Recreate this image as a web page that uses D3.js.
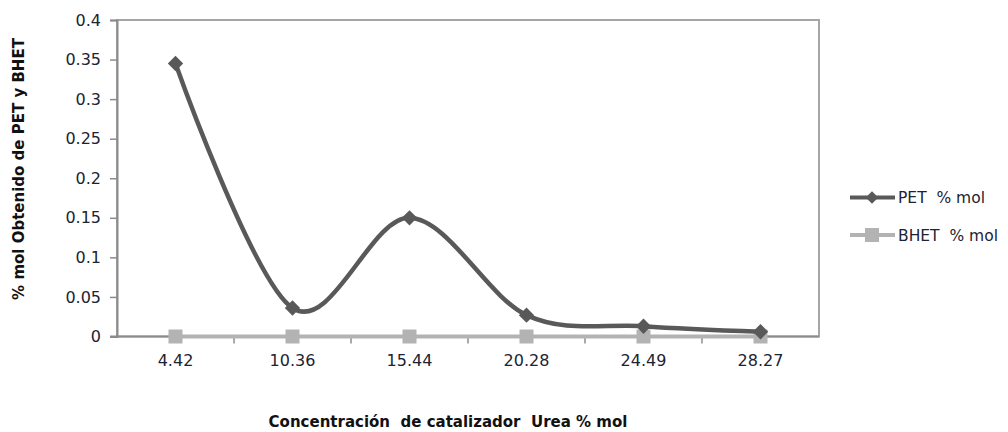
<!DOCTYPE html>
<html>
<head>
<meta charset="utf-8">
<script src="https://cdn.jsdelivr.net/npm/d3@7"></script>
<style>
  body { margin: 0; background: #fff; }
  svg { display: block; }
  text { white-space: pre; }
</style>
</head>
<body>
<svg id="chart" width="1008" height="432"></svg>
<script>
// Catalyst concentration (urea, % mol) and yields
const categories = ["4.42", "10.36", "15.44", "20.28", "24.49", "28.27"];
const petValues  = [0.345, 0.036, 0.150, 0.027, 0.013, 0.006];
const bhetValues = [0, 0, 0, 0, 0, 0];
const yTicks = [0, 0.05, 0.1, 0.15, 0.2, 0.25, 0.3, 0.35, 0.4];
const seriesNames = ["PET  % mol", "BHET  % mol"];

const svg = d3.select("#chart");
const plot = { left: 117, right: 819, top: 20, bottom: 336.5 };
const font = "'DejaVu Sans', 'Open Sans', sans-serif";
const textColor = "#1c2333";

const x = d3.scaleBand().domain(categories).range([plot.left, plot.right]);
const y = d3.scaleLinear().domain([0, 0.4]).range([plot.bottom, plot.top]);

// plot frame
svg.append("rect")
  .attr("x", plot.left).attr("y", plot.top)
  .attr("width", plot.right - plot.left).attr("height", plot.bottom - plot.top)
  .attr("fill", "none").attr("stroke", "#a6a6a6").attr("stroke-width", 2);

// y axis
const yAxis = svg.append("g")
  .attr("transform", `translate(${plot.left},0)`)
  .call(d3.axisLeft(y).tickValues(yTicks).tickSize(7).tickPadding(9)
    .tickFormat(d => d3.format("~g")(d)));
yAxis.select(".domain").attr("stroke", "#8c8c8c").attr("stroke-width", 2);
yAxis.selectAll(".tick line").attr("stroke", "#8c8c8c").attr("stroke-width", 1.5);
yAxis.selectAll(".tick text")
  .attr("font-family", font).attr("font-size", 16).attr("fill", textColor);

// x axis: ticks sit between the categories
const xAxis = svg.append("g")
  .attr("transform", `translate(0,${plot.bottom})`)
  .call(d3.axisBottom(x).tickSize(0).tickPadding(18));
xAxis.select(".domain").remove();
xAxis.selectAll(".tick text")
  .attr("font-family", font).attr("font-size", 16).attr("fill", textColor);
svg.append("line")
  .attr("x1", plot.left - 7).attr("x2", plot.right)
  .attr("y1", plot.bottom).attr("y2", plot.bottom)
  .attr("stroke", "#8c8c8c").attr("stroke-width", 2);
svg.append("g").selectAll("line")
  .data(categories.slice(1))
  .join("line")
  .attr("x1", d => x(d)).attr("x2", d => x(d))
  .attr("y1", plot.bottom).attr("y2", plot.bottom + 7)
  .attr("stroke", "#8c8c8c").attr("stroke-width", 1.5);

const cx = d => x(d) + x.bandwidth() / 2;

const smooth = d3.line()
  .x((d, i) => cx(categories[i]))
  .y(d => y(d))
  .curve(d3.curveCardinal.tension(0));

// BHET series
svg.append("path")
  .datum(bhetValues)
  .attr("d", smooth)
  .attr("fill", "none").attr("stroke", "#b3b3b3").attr("stroke-width", 4);
svg.append("g").selectAll("rect")
  .data(bhetValues)
  .join("rect")
  .attr("x", (d, i) => cx(categories[i]) - 7)
  .attr("y", d => y(d) - 7)
  .attr("width", 14).attr("height", 14)
  .attr("fill", "#b3b3b3");

// PET series
svg.append("path")
  .datum(petValues)
  .attr("d", smooth)
  .attr("fill", "none").attr("stroke", "#595959").attr("stroke-width", 4.5);
const diamond = d3.symbol().type(d3.symbolDiamond2).size(150);
svg.append("g").selectAll("path")
  .data(petValues)
  .join("path")
  .attr("transform", (d, i) => `translate(${cx(categories[i])},${y(d)})`)
  .attr("d", diamond)
  .attr("fill", "#595959");

// legend
const legend = svg.append("g").attr("font-family", font).attr("font-size", 15.5).attr("fill", textColor);
const legendItems = [
  { name: seriesNames[0], color: "#595959", y: 197.5, marker: "diamond" },
  { name: seriesNames[1], color: "#b3b3b3", y: 235, marker: "square" }
];
legendItems.forEach(it => {
  legend.append("line")
    .attr("x1", 850).attr("x2", 895).attr("y1", it.y).attr("y2", it.y)
    .attr("stroke", it.color).attr("stroke-width", 4);
  if (it.marker === "diamond") {
    legend.append("path")
      .attr("transform", `translate(872,${it.y})`)
      .attr("d", d3.symbol().type(d3.symbolDiamond2).size(100))
      .attr("fill", it.color);
  } else {
    legend.append("rect")
      .attr("x", 865).attr("y", it.y - 7).attr("width", 14).attr("height", 14)
      .attr("fill", it.color);
  }
  legend.append("text")
    .attr("x", 898).attr("y", it.y + 5.5)
    .text(it.name);
});

// axis titles
svg.append("text")
  .attr("x", 448).attr("y", 427)
  .attr("text-anchor", "middle")
  .attr("font-family", font).attr("font-size", 15).attr("font-weight", "bold")
  .attr("fill", "#111")
  .text("Concentración  de catalizador  Urea % mol");

svg.append("text")
  .attr("transform", "translate(24,169) rotate(-90)")
  .attr("text-anchor", "middle")
  .attr("font-family", font).attr("font-size", 15).attr("font-weight", "bold")
  .attr("fill", "#111")
  .text("% mol Obtenido de PET y BHET");
</script>
</body>
</html>
